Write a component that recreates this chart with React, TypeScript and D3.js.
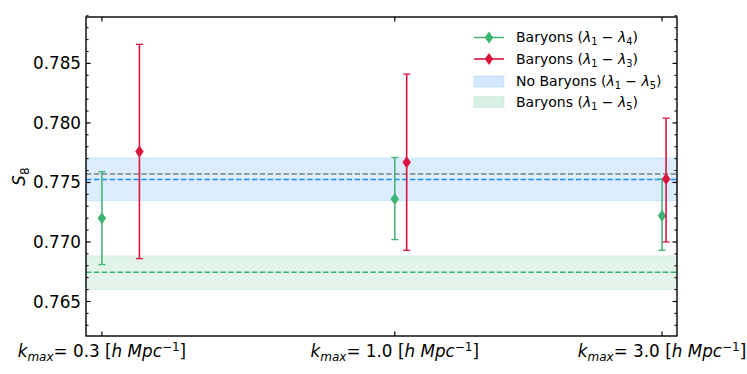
import React from 'react';
import * as d3 from 'd3';

// k_max values (h/Mpc) and the offset used for the red series
const kValues = [0.3, 1.0, 3.0];
const redShift = 0.05;

// Baryons (lambda1 - lambda4)
const greenS8 = [0.772, 0.7736, 0.7722];
const greenHi = [0.7759, 0.7771, 0.7753];
const greenLo = [0.7681, 0.7702, 0.7693];

// Baryons (lambda1 - lambda3)
const redS8 = [0.7776, 0.7767, 0.7753];
const redHi = [0.7866, 0.7841, 0.7804];
const redLo = [0.7686, 0.7693, 0.77];

// horizontal reference bands
const noBaryonsBand = [0.77346, 0.77525, 0.77707]; // lo, mid, hi
const baryonsBand = [0.766, 0.76746, 0.76883];
const fiducialS8 = 0.7757;

const yTicks = [0.765, 0.77, 0.775, 0.78, 0.785];

const W = 747;
const H = 374;
const margin = { top: 17, right: 70, bottom: 38, left: 86 };
const FONT = '"DejaVu Sans", sans-serif';
const TICK_FS = 16.8;

const GREEN = '#3cb371';
const RED = '#dc143c';
const BLUE = '#1e90ff';

const x = d3.scaleLog().domain([0.281, 3.19]).range([margin.left, W - margin.right]);
const y = d3.scaleLinear().domain([0.7621, 0.7889]).range([H - margin.bottom, margin.top]);

const diamond = (cx: number, cy: number, w: number, h: number) =>
  `M${cx},${cy - h / 2}L${cx + w / 2},${cy}L${cx},${cy + h / 2}L${cx - w / 2},${cy}Z`;

const ErrSeries = ({ xs, mid, lo, hi, color, lw }: any) => (
  <g>
    {xs.map((k: number, i: number) => {
      const cx = x(k);
      return (
        <g key={i}>
          <line x1={cx} x2={cx} y1={y(lo[i])} y2={y(hi[i])} stroke={color} strokeWidth={lw} />
          <line x1={cx - 3.5} x2={cx + 3.5} y1={y(lo[i])} y2={y(lo[i])} stroke={color} strokeWidth={1.3} />
          <line x1={cx - 3.5} x2={cx + 3.5} y1={y(hi[i])} y2={y(hi[i])} stroke={color} strokeWidth={1.3} />
          <path d={diamond(cx, y(mid[i]), 8.5, 12)} fill={color} />
        </g>
      );
    })}
  </g>
);

const legendLabel = (sub: string, prefix: string) => (
  <>
    {prefix} (<tspan fontStyle="italic">λ</tspan>
    <tspan fontSize="9.8" dy="3">1</tspan>
    <tspan dy="-3"> − </tspan>
    <tspan fontStyle="italic">λ</tspan>
    <tspan fontSize="9.8" dy="3">{sub}</tspan>
    <tspan dy="-3">)</tspan>
  </>
);

export default function App() {
  const x0 = margin.left;
  const x1 = W - margin.right;
  const y0 = margin.top;
  const y1 = H - margin.bottom;
  const minor = d3.range(0.763, 0.789, 0.001).filter(
    (v) => !yTicks.some((t) => Math.abs(t - v) < 1e-6)
  );
  const legX = 474;
  const legY = [37.5, 59, 81.5, 102];

  return (
    <svg width={W} height={H} style={{ position: 'absolute', left: 0, top: 0 }} fontFamily={FONT}>
      <defs>
        <clipPath id="plot">
          <rect x={x0} y={y0} width={x1 - x0} height={y1 - y0} />
        </clipPath>
      </defs>
      <g clipPath="url(#plot)">
        <rect x={x0} width={x1 - x0} y={y(noBaryonsBand[2])} height={y(noBaryonsBand[0]) - y(noBaryonsBand[2])}
          fill={BLUE} fillOpacity={0.16} stroke={BLUE} strokeOpacity={0.12} />
        <rect x={x0} width={x1 - x0} y={y(baryonsBand[2])} height={y(baryonsBand[0]) - y(baryonsBand[2])}
          fill={GREEN} fillOpacity={0.15} stroke={GREEN} strokeOpacity={0.12} />
        <line x1={x0} x2={x1} y1={y(fiducialS8)} y2={y(fiducialS8)} stroke="#808080" strokeWidth={1.5} strokeDasharray="5.5,2.4" />
        <line x1={x0} x2={x1} y1={y(noBaryonsBand[1])} y2={y(noBaryonsBand[1])} stroke={BLUE} strokeWidth={1.5} strokeDasharray="5.5,2.4" />
        <line x1={x0} x2={x1} y1={y(baryonsBand[1])} y2={y(baryonsBand[1])} stroke={GREEN} strokeWidth={1.5} strokeDasharray="5.5,2.4" />
        <ErrSeries xs={kValues} mid={greenS8} lo={greenLo} hi={greenHi} color={GREEN} lw={1.5} />
        <ErrSeries xs={kValues.map((k) => k + redShift)} mid={redS8} lo={redLo} hi={redHi} color={RED} lw={1.6} />
      </g>

      {/* ticks */}
      {yTicks.map((t) => (
        <g key={t}>
          <line x1={x0} x2={x0 + 4.5} y1={y(t)} y2={y(t)} stroke="#000" strokeWidth={1.2} />
          <line x1={x1} x2={x1 - 4.5} y1={y(t)} y2={y(t)} stroke="#000" strokeWidth={1.2} />
          <text x={x0 - 5} y={y(t)} dy="0.36em" textAnchor="end" fontSize={TICK_FS}>{t.toFixed(3)}</text>
        </g>
      ))}
      {minor.map((t) => (
        <g key={t}>
          <line x1={x0} x2={x0 + 2.6} y1={y(t)} y2={y(t)} stroke="#000" strokeWidth={1} />
          <line x1={x1} x2={x1 - 2.6} y1={y(t)} y2={y(t)} stroke="#000" strokeWidth={1} />
        </g>
      ))}
      {kValues.map((k) => (
        <g key={k}>
          <line x1={x(k)} x2={x(k)} y1={y1} y2={y1 - 4.5} stroke="#000" strokeWidth={1.2} />
          <line x1={x(k)} x2={x(k)} y1={y0} y2={y0 + 4.5} stroke="#000" strokeWidth={1.2} />
          <text x={x(k)} y={y1 + 21} textAnchor="middle" fontSize={TICK_FS}>
            <tspan fontStyle="italic">k</tspan>
            <tspan fontStyle="italic" fontSize="12" dy="3.5">max</tspan>
            <tspan dy="-3.5">= {k.toFixed(1)} [</tspan>
            <tspan fontStyle="italic">h Mpc</tspan>
            <tspan fontSize="12" dy="-6.5">−1</tspan>
            <tspan dy="6.5">]</tspan>
          </text>
        </g>
      ))}
      <rect x={x0} y={y0} width={x1 - x0} height={y1 - y0} fill="none" stroke="#000" strokeWidth={1.4} />

      <text transform={`translate(${25},${(y0 + y1) / 2}) rotate(-90)`} textAnchor="middle" fontSize={TICK_FS}>
        <tspan fontStyle="italic">S</tspan>
        <tspan fontSize="12" dy="3.5">8</tspan>
      </text>

      {/* legend */}
      <g fontSize={14}>
        <line x1={legX} x2={legX + 30} y1={legY[0]} y2={legY[0]} stroke={GREEN} strokeWidth={1.5} />
        <path d={diamond(legX + 15, legY[0], 8.5, 12)} fill={GREEN} />
        <text x={516} y={legY[0]} dy="0.35em">{legendLabel('4', 'Baryons')}</text>
        <line x1={legX} x2={legX + 30} y1={legY[1]} y2={legY[1]} stroke={RED} strokeWidth={1.6} />
        <path d={diamond(legX + 15, legY[1], 8.5, 12)} fill={RED} />
        <text x={516} y={legY[1]} dy="0.35em">{legendLabel('3', 'Baryons')}</text>
        <rect x={legX} y={legY[2] - 5.5} width={30} height={11} fill={BLUE} fillOpacity={0.2} stroke={BLUE} strokeOpacity={0.15} />
        <text x={516} y={legY[2]} dy="0.35em">{legendLabel('5', 'No Baryons')}</text>
        <rect x={legX} y={legY[3] - 5.5} width={30} height={11} fill={GREEN} fillOpacity={0.18} stroke={GREEN} strokeOpacity={0.15} />
        <text x={516} y={legY[3]} dy="0.35em">{legendLabel('5', 'Baryons')}</text>
      </g>
    </svg>
  );
}
